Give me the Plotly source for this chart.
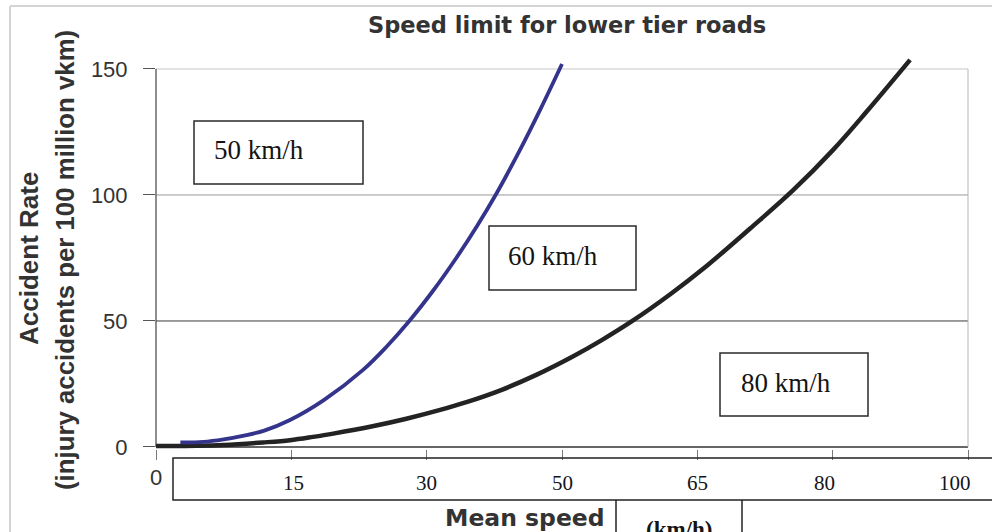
import plotly.graph_objects as go

# ---------------- data ----------------
title_text = "Speed limit for lower tier roads"
y_title_1 = "Accident Rate"
y_title_2 = "(injury accidents per 100 million vkm)"
x_title = "Mean speed"
x_unit = "(km/h)"

# x positions are expressed in tick-slot units (0..6) of the chart's speed axis
x_tick_labels = ["0", "15", "30", "50", "65", "80", "100"]
y_tick_vals = [0, 50, 100, 150]

curve_50_x = [0.18, 0.35, 0.50, 0.65, 0.80, 0.99, 1.24, 1.53, 1.70, 1.87, 2.05, 2.22, 2.37,
              2.52, 2.68, 2.84, 3.00]
curve_50_y = [1.8, 2.0, 3.0, 4.5, 6.5, 10.7, 18.6, 30.6, 39.6, 49.9, 62.2, 75.1, 87.5,
              101.0, 116.9, 134.0, 152.0]

curve_80_x = [0.00, 0.30, 0.50, 0.79, 0.99, 1.16, 1.31, 1.60, 1.85, 2.10, 2.30, 2.55, 2.81,
              3.08, 3.30, 3.52, 3.80, 4.05, 4.39, 4.71, 5.005, 5.25, 5.572]
curve_80_y = [0.4, 0.5, 0.8, 1.8, 2.7, 4.0, 5.3, 8.2, 11.2, 14.7, 17.9, 22.6, 28.6,
              35.9, 42.6, 50.0, 60.6, 71.0, 86.7, 102.0, 118.0, 133.0, 153.6]

box_labels = ["50 km/h", "60 km/h", "80 km/h"]

# ---------------- layout helpers ----------------
W, H = 992, 532
L, R = 156, 14
T, B = 56, 83
PW = W - L - R            # 822
PH = H - T - B            # 393
PX_PER_TICK = 812 / 6
X_MAX = PW / PX_PER_TICK
Y_MIN = -0.8
Y_MAX = Y_MIN + PH / 2.52


def px2x(px):
    return (px - L) / PW


def px2y(py):
    return (H - B - py) / PH


fig = go.Figure()

fig.add_trace(go.Scatter(
    x=curve_80_x, y=curve_80_y, mode="lines",
    line=dict(color="#232323", width=4.5, shape="spline", smoothing=1.0),
    showlegend=False, hoverinfo="skip"))
fig.add_trace(go.Scatter(
    x=curve_50_x, y=curve_50_y, mode="lines",
    line=dict(color="#34348c", width=3.8, shape="spline", smoothing=1.0),
    showlegend=False, hoverinfo="skip"))

shapes = []
right_edge = px2x(968)
# gridlines
for val, col in [(50, "#3a3a3a"), (100, "#9a9a9a"), (150, "#c8c8c8")]:
    shapes.append(dict(type="line", xref="paper", yref="y", x0=0, x1=right_edge, y0=val, y1=val,
                       line=dict(color=col, width=1), layer="below"))
# x-axis line
shapes.append(dict(type="line", xref="paper", yref="y", x0=0, x1=right_edge, y0=0, y1=0,
                   line=dict(color="#333333", width=1.5), layer="below"))
# y-axis line
shapes.append(dict(type="line", xref="paper", yref="y", x0=0, x1=0, y0=0, y1=150,
                   line=dict(color="#444444", width=1.2), layer="below"))
# right border of plot area
shapes.append(dict(type="line", xref="paper", yref="y", x0=right_edge, x1=right_edge, y0=0, y1=150,
                   line=dict(color="#b4b4b4", width=1), layer="below"))

# outer frame (top and left)
shapes.append(dict(type="line", xref="paper", yref="paper", x0=px2x(10), x1=px2x(1000),
                   y0=px2y(6), y1=px2y(6), line=dict(color="#d4d4d4", width=2)))
shapes.append(dict(type="line", xref="paper", yref="paper", x0=px2x(10), x1=px2x(10),
                   y0=px2y(6), y1=px2y(540), line=dict(color="#d4d4d4", width=2)))

# text boxes for speed limits
box_px = [(194, 121, 363, 184), (489, 226, 636, 290), (720, 353, 868, 416)]
text_px = [(212, 150), (506, 256), (739, 383)]
for (x0, y0, x1, y1) in box_px:
    shapes.append(dict(type="rect", xref="paper", yref="paper",
                       x0=px2x(x0), x1=px2x(x1), y0=px2y(y0), y1=px2y(y1),
                       line=dict(color="#2a2a2a", width=1.5), fillcolor="rgba(255,255,255,1)"))

# label box under axis
shapes.append(dict(type="rect", xref="paper", yref="paper",
                   x0=px2x(173), x1=px2x(1010), y0=px2y(458), y1=px2y(500),
                   line=dict(color="#222222", width=1.5)))
# (km/h) box
for xx in (616, 742):
    shapes.append(dict(type="line", xref="paper", yref="paper", x0=px2x(xx), x1=px2x(xx),
                       y0=px2y(500), y1=px2y(545), line=dict(color="#222222", width=1.5)))

annotations = []
serif = "Liberation Serif, Times New Roman, serif"
sans = "Liberation Sans, Arial, sans-serif"
bold_sans = "DejaVu Sans, Liberation Sans, sans-serif"

for txt, (tx, ty) in zip(box_labels, text_px):
    annotations.append(dict(text=txt, xref="paper", yref="paper", x=px2x(tx), y=px2y(ty),
                            xanchor="left", yanchor="middle", showarrow=False,
                            font=dict(family=serif, size=27, color="#141414")))

annotations.append(dict(text="<b>" + title_text + "</b>", xref="paper", yref="paper",
                        x=px2x(567), y=px2y(25), xanchor="center", yanchor="middle",
                        showarrow=False, font=dict(family=bold_sans, size=22.5, color="#333333")))
annotations.append(dict(text="<b>" + y_title_1 + "</b>", xref="paper", yref="paper",
                        x=px2x(29), y=px2y(259), xanchor="center", yanchor="middle", textangle=-90,
                        showarrow=False, font=dict(family=sans, size=26, color="#333333")))
annotations.append(dict(text="<b>" + y_title_2 + "</b>", xref="paper", yref="paper",
                        x=px2x(65), y=px2y(260), xanchor="center", yanchor="middle", textangle=-90,
                        showarrow=False, font=dict(family=sans, size=25.8, color="#333333")))
annotations.append(dict(text="<b>" + x_title + "</b>", xref="paper", yref="paper",
                        x=px2x(607), y=px2y(518), xanchor="right", yanchor="middle",
                        showarrow=False, font=dict(family=bold_sans, size=23.5, color="#333333")))
annotations.append(dict(text="<b>" + x_unit + "</b>", xref="paper", yref="paper",
                        x=px2x(679), y=px2y(529), xanchor="center", yanchor="middle",
                        showarrow=False, font=dict(family=serif, size=23, color="#141414")))

label_shift = [0, 2, 0, 0, 0, -8, -13]
for i, lab in enumerate(x_tick_labels):
    if i == 0:
        annotations.append(dict(text=lab, xref="x", yref="paper", x=i, y=px2y(477),
                                xanchor="center", yanchor="middle", showarrow=False,
                                font=dict(family=sans, size=22, color="#333333")))
    else:
        annotations.append(dict(text=lab, xref="x", yref="paper", x=i, y=px2y(483),
                                xshift=label_shift[i], xanchor="center", yanchor="middle",
                                showarrow=False, font=dict(family=serif, size=21, color="#141420")))

fig.update_layout(
    width=W, height=H,
    margin=dict(l=L, r=R, t=T, b=B),
    paper_bgcolor="white", plot_bgcolor="white",
    shapes=shapes, annotations=annotations,
    showlegend=False,
    xaxis=dict(range=[0, X_MAX], tickvals=list(range(len(x_tick_labels))), showticklabels=False,
               ticks="outside", ticklen=10, tickcolor="#7a7a7a", tickwidth=1,
               showgrid=False, zeroline=False, showline=False, fixedrange=True),
    yaxis=dict(range=[Y_MIN, Y_MAX], tickvals=y_tick_vals, ticktext=[str(v) for v in y_tick_vals],
               ticks="outside", ticklen=12, tickcolor="#555555", tickwidth=1,
               ticklabelstandoff=11,
               tickfont=dict(family=sans, size=22, color="#333333"),
               showgrid=False, zeroline=False, showline=False, fixedrange=True),
)

fig.write_html("out.html", config={"displayModeBar": False},
               post_script="document.body.style.margin='0';")
